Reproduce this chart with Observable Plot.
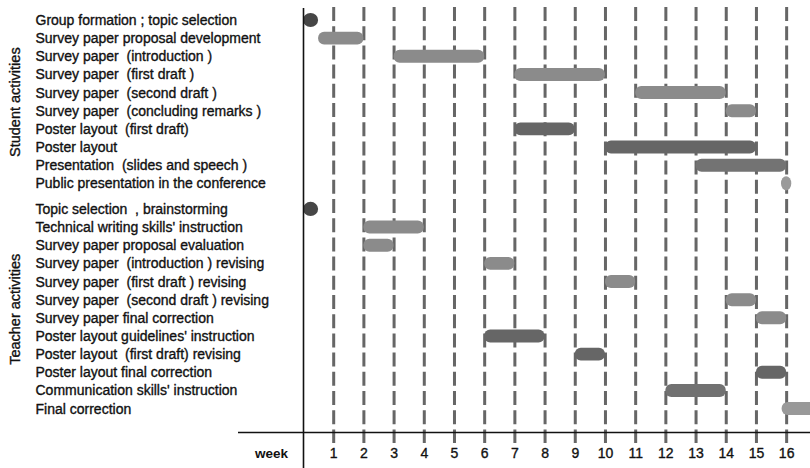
<!DOCTYPE html>
<html>
<head>
<meta charset="utf-8">
<script src="https://cdn.jsdelivr.net/npm/d3@7"></script>
<script src="https://cdn.jsdelivr.net/npm/@observablehq/plot@0.6"></script>
<style>
  html, body { margin: 0; padding: 0; background: #fff; }
  #chart svg { display: block; }
</style>
</head>
<body>
<div id="chart"></div>
<script>
// ---- Data ----
const studentTasks = [
  "Group formation ; topic selection",
  "Survey paper proposal development",
  "Survey paper  (introduction )",
  "Survey paper  (first draft )",
  "Survey paper  (second draft )",
  "Survey paper  (concluding remarks )",
  "Poster layout  (first draft)",
  "Poster layout",
  "Presentation  (slides and speech )",
  "Public presentation in the conference"
];
const studentStart = [0, 0.5, 3, 7, 11, 14, 7, 10, 13, 15.83];
const studentEnd   = [0.5, 2, 6, 10, 14, 15, 9, 15, 16, 16.17];
const studentType  = ["kickoff", "survey", "survey", "survey", "survey", "survey", "poster", "poster", "presentation", "conference"];

const teacherTasks = [
  "Topic selection  , brainstorming",
  "Technical writing skills' instruction",
  "Survey paper proposal evaluation",
  "Survey paper  (introduction ) revising",
  "Survey paper  (first draft ) revising",
  "Survey paper  (second draft ) revising",
  "Survey paper final correction",
  "Poster layout guidelines' instruction",
  "Poster layout  (first draft) revising",
  "Poster layout final correction",
  "Communication skills' instruction",
  "Final correction"
];
const teacherStart = [0, 2, 2, 6, 10, 14, 15, 6, 9, 15, 12, 15.85];
const teacherEnd   = [0.5, 4, 3, 7, 11, 15, 16, 8, 10, 16, 14, 17];
const teacherType  = ["kickoff", "survey", "survey", "survey", "survey", "survey", "survey", "poster", "poster", "poster", "communication", "final"];

const groupLabels = ["Student activities", "Teacher activities"];
const weeks = [1, 2, 3, 4, 5, 6, 7, 8, 9, 10, 11, 12, 13, 14, 15, 16];
const weekLabel = "week";

const typeDomain = ["kickoff", "survey", "poster", "presentation", "conference", "communication", "final"];
const typeColors = ["#464646", "#8b8b8b", "#666666", "#737373", "#9a9a9a", "#717171", "#999999"];

// ---- Build table ----
const GROUP_GAP = 1.41;
const rows = [
  ...studentTasks.map((task, i) => ({
    group: groupLabels[0], task, start: studentStart[i], end: studentEnd[i], type: studentType[i], pos: i
  })),
  ...teacherTasks.map((task, i) => ({
    group: groupLabels[1], task, start: teacherStart[i], end: teacherEnd[i], type: teacherType[i],
    pos: studentTasks.length - 1 + GROUP_GAP + i
  }))
];
const groups = groupLabels.map(label => ({
  label, pos: d3.mean(rows.filter(r => r.group === label), r => r.pos)
}));
const pointTypes = new Set(["kickoff", "conference"]);
const yMin = -0.66, yMax = 22.7;

const textStyle = { fill: "#111", stroke: "#111", strokeWidth: 0.35 };

const chart = Plot.plot({
  width: 810,
  height: 468,
  marginLeft: 303,
  marginRight: 0,
  marginTop: 8,
  marginBottom: 36,
  x: { domain: [0, 16.79], axis: null },
  y: { domain: [yMin, yMax], reverse: true, axis: null },
  color: { domain: typeDomain, range: typeColors },
  style: { fontFamily: "'Liberation Sans', Arial, sans-serif", fontSize: "14px", color: "#111", background: "#fff" },
  marks: [
    // dashed week grid
    Plot.ruleX(weeks, { x: d => d, stroke: "#666", strokeWidth: 3, strokeDasharray: "14,5.2", insetTop: -1, insetBottom: -11 }),
    // bars
    Plot.rect(rows.filter(d => !pointTypes.has(d.type)), {
      x1: "start", x2: "end", y1: d => d.pos - 0.5, y2: d => d.pos + 0.5,
      insetTop: 2.6, insetBottom: 2.6, rx: 6, fill: "type", clip: true
    }),
    // point events
    Plot.rect(rows.filter(d => pointTypes.has(d.type)), {
      x1: "start", x2: "end", y1: d => d.pos - 0.5, y2: d => d.pos + 0.5,
      insetTop: 2, insetBottom: 2, rx: 8, ry: 7, fill: "type"
    }),
    // axis lines
    Plot.ruleX([0], { x: d => d, stroke: "#111", strokeWidth: 1.6, insetBottom: -36 }),
    Plot.ruleY([yMax], { y: d => d, stroke: "#111", strokeWidth: 1.6, insetLeft: -65 }),
    // task labels
    Plot.text(rows, {
      y: "pos", text: "task", frameAnchor: "left", dx: -268, textAnchor: "start",
      fontSize: 14, ...textStyle
    }),
    // group labels
    Plot.text(groups, {
      y: "pos", text: "label", frameAnchor: "left", dx: -288, rotate: -90, textAnchor: "middle",
      fontSize: 14.5, ...textStyle
    }),
    // week tick labels
    Plot.text(weeks, { x: d => d, text: d => String(d), frameAnchor: "bottom", dy: 25, fontSize: 14, ...textStyle }),
    Plot.text([weekLabel], { text: d => d, frameAnchor: "bottom-left", dx: -32, dy: 25, textAnchor: "middle", fontSize: 13.5, fontWeight: "bold", fill: "#111" })
  ]
});
document.getElementById("chart").append(chart);
</script>
</body>
</html>
